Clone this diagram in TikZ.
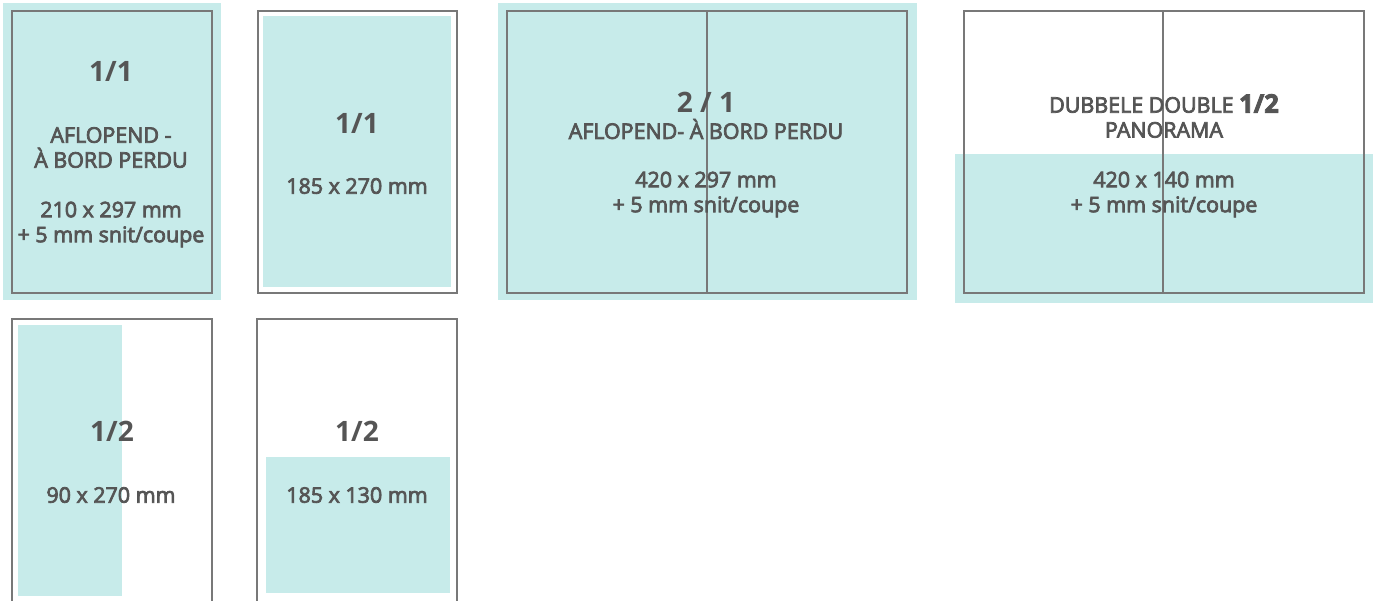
\documentclass[tikz,border=0pt]{standalone}
\usepackage{fontspec}
\setmainfont{Open Sans}
\newfontfamily\semi[FakeBold=3.5]{Open Sans}
\definecolor{bleed}{RGB}{199,235,234}
\definecolor{rim}{RGB}{120,120,120}
\definecolor{ink}{RGB}{85,85,85}
\begin{document}
\begin{tikzpicture}[x=0.02cm, y=-0.02cm]

        \tikzstyle{page} = [draw=rim, line width=0.6pt]
        \tikzstyle{ad} = [fill=bleed]
        \tikzstyle{title} = [text=ink, font=\fontsize{16}{19}\selectfont\bfseries, inner sep=0pt]
        \tikzstyle{info} = [text=ink, font=\semi\fontsize{12.2}{14.2}\selectfont, align=center, inner sep=0pt]

        \useasboundingbox (0,0) rectangle (1373,600);
        \clip (0,0) rectangle (1373,600);

        % coloured areas
        \fill [ad] (3,3) rectangle (221,300);
        \fill [ad] (263,16) rectangle (451,287);
        \fill [ad] (498,3) rectangle (917,300);
        \fill [ad] (955,154) rectangle (1373,303);
        \fill [ad] (18,325) rectangle (122,596);
        \fill [ad] (266,457) rectangle (450,593);

        % pages
        \draw [page] (12,11) rectangle (212,293);
        \draw [page] (258,11) rectangle (457,293);
        \draw [page] (507,11) rectangle (907,293);
        \draw [page] (707,11) -- (707,293);
        \draw [page] (964,11) rectangle (1364,293);
        \draw [page] (1163,11) -- (1163,293);
        \draw [page] (12,319) rectangle (212,610);
        \draw [page] (257,319) rectangle (457,610);

        % texts
        \node [title] (full1) at (111,71) {1/1};
        \node [info] (full1a) at (111,147.5) {AFLOPEND -\\À BORD PERDU};
        \node [info] (full1b) at (111,224.5) {210 x 297 mm\\+ 5 mm snit/coupe};

        \node [title] (full2) at (357,123) {1/1};
        \node [info] (full2a) at (357,186) {185 x 270 mm};

        \node [title] (spread) at (706,102) {2 / 1};
        \node [info] (spreada) at (706,129) {AFLOPEND- À BORD PERDU};
        \node [info] (spreadb) at (706,194.5) {420 x 297 mm\\+ 5 mm snit/coupe};

        \node [info] (pano) at (1164,116) {DUBBELE DOUBLE {\fontsize{14.5}{14.2}\selectfont\bfseries 1/2}\\PANORAMA};
        \node [info] (panoa) at (1164,194.5) {420 x 140 mm\\+ 5 mm snit/coupe};

        \node [title] (half1) at (112,431) {1/2};
        \node [info] (half1a) at (111,495) {90 x 270 mm};

        \node [title] (half2) at (357,431) {1/2};
        \node [info] (half2a) at (357,495) {185 x 130 mm};

    \end{tikzpicture}
\end{document}
